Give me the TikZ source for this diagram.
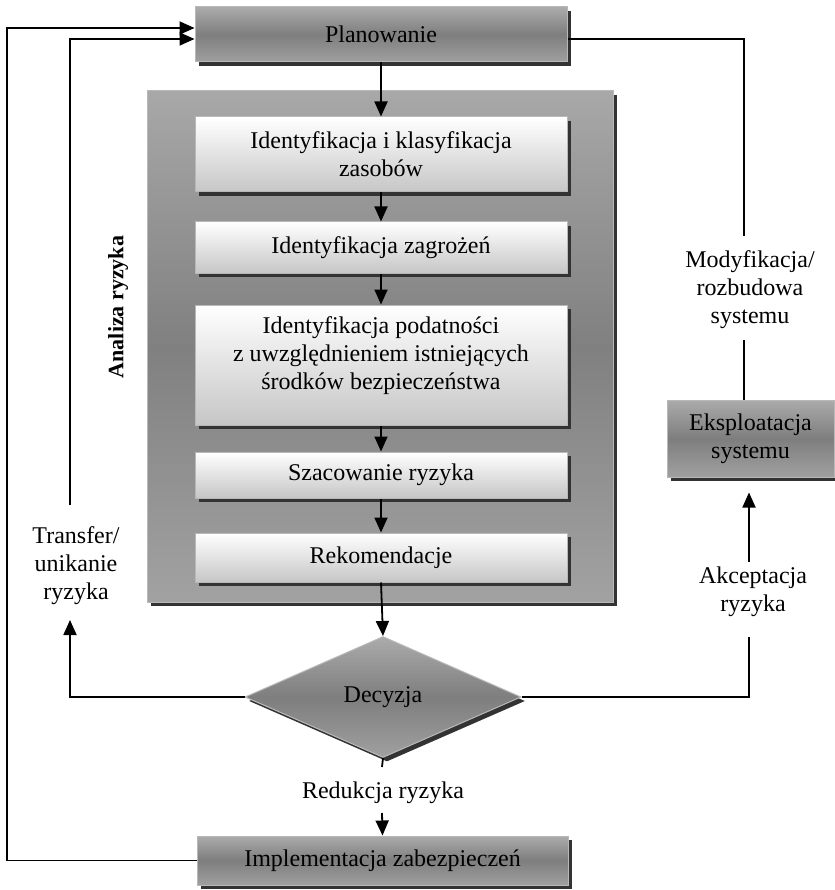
\documentclass[tikz,border=0pt]{standalone}
\usepackage{fontspec}
\setmainfont{Liberation Serif}
\usetikzlibrary{arrows.meta,shapes.geometric,shadows,calc}
\definecolor{dlight}{HTML}{ABABAB}
\definecolor{dmid}{HTML}{7E7E7E}
\definecolor{dbot}{HTML}{A0A0A0}
\definecolor{boxedge}{HTML}{B8B8B8}
\definecolor{lbot}{HTML}{C6C6C6}
\definecolor{olight}{HTML}{A8A8A8}
\definecolor{omid}{HTML}{808080}
\definecolor{obot}{HTML}{A2A2A2}
\begin{document}
\begin{tikzpicture}[x=1pt,y=-1pt,
  font=\fontsize{24}{28}\selectfont,
  shad/.style={drop shadow={shadow xshift=4pt,shadow yshift=-4pt,opacity=1,fill=black!80}},
  darkbox/.style={shad,draw=boxedge,line width=1pt,top color=dlight,bottom color=dbot,middle color=dmid,align=center,inner sep=0pt},
  outerbox/.style={shad,draw=boxedge,line width=1pt,top color=olight,bottom color=obot,middle color=omid,inner sep=0pt},
  lightbox/.style={shad,draw=boxedge,line width=1pt,top color=white,bottom color=lbot,align=center,inner sep=0pt,minimum width=372pt},
  decbox/.style={diamond,shad,draw=boxedge,line width=1pt,top color=dlight,bottom color=dbot,middle color=dmid,inner sep=0pt},
  lbl/.style={align=center,inner sep=0pt},
  conn/.style={line width=1.8pt},
  arr/.style={line width=1.8pt,-{Triangle[length=15pt,width=13pt]}}
]
\useasboundingbox (0,0) rectangle (834,890);

\node[darkbox,minimum width=372pt,minimum height=55pt] (plan) at (381,34.5) {Planowanie};
\node[outerbox,minimum width=466pt,minimum height=511pt] (ana) at (380,346.5) {};
\node[rotate=90,font=\bfseries\fontsize{22}{26}\selectfont] (anl) at (118,307) {Analiza ryzyka};

\node[lightbox,minimum height=75pt] (b1) at (381,154.5) {Identyfikacja i klasyfikacja\\zasobów};
\node[lightbox,minimum height=51pt] (b2) at (381,247.5) {Identyfikacja zagrożeń};
\node[lightbox,minimum height=120pt] (b3) at (381,365) {};
\node[lbl] (b3t) at (381,356) {Identyfikacja podatności\\z uwzględnieniem istniejących\\środków bezpieczeństwa};
\node[lightbox,minimum height=46pt] (b4) at (381,475) {Szacowanie ryzyka};
\node[lightbox,minimum height=49pt] (b5) at (381,557.5) {Rekomendacje};

\node[decbox,minimum width=276pt,minimum height=121pt] (dec) at (383,697) {Decyzja};
\node[darkbox,minimum width=371pt,minimum height=49pt] (impl) at (382.5,860.5) {Implementacja zabezpieczeń};
\node[darkbox,minimum width=167pt,minimum height=77pt] (eks) at (750.5,438.5) {Eksploatacja\\systemu};

\node[lbl] (tr) at (76,566) {Transfer/\\unikanie\\ryzyka};
\node[lbl] (mo) at (750,290) {Modyfikacja/\\rozbudowa\\systemu};
\node[lbl] (ak) at (753,592) {Akceptacja\\ryzyka};
\node[lbl] (red) at (383,793) {Redukcja ryzyka};

\coordinate (trT) at (70,505);
\coordinate (trB) at (70,620);
\coordinate (ol) at (7,28);
\coordinate (moT) at (744,236);
\coordinate (moB) at (744,340);
\coordinate (akT) at (749,562);
\coordinate (akB) at (749,637);
\coordinate (reT) at (382,767);
\coordinate (reB) at (382,813);

\draw[arr] (plan.south) -- (b1.north);
\draw[arr] (b1.south) -- (b2.north);
\draw[arr] (b2.south) -- (b3.north);
\draw[arr] (b3.south) -- (b4.north);
\draw[arr] (b4.south) -- (b5.north);
\draw[arr] (b5.south) -- (dec.north);
\draw[conn] (dec.south) -- (reT);
\draw[arr] (reB) -- (impl.north);
\draw[arr] (dec.west) -| (trB);
\draw[arr] (trT) |- ([yshift=-4.5pt]plan.west);
\draw[arr] (impl.west) -| (ol) -- ([yshift=6.5pt]plan.west);
\draw[conn] ([yshift=-4.5pt]plan.east) -| (moT);
\draw[conn] (moB) -- (moB |- eks.north);
\draw[arr,shorten >=15pt] (akT) -- (akT |- eks.south);
\draw[conn] (dec.east) -| (akB);
\end{tikzpicture}
\end{document}
